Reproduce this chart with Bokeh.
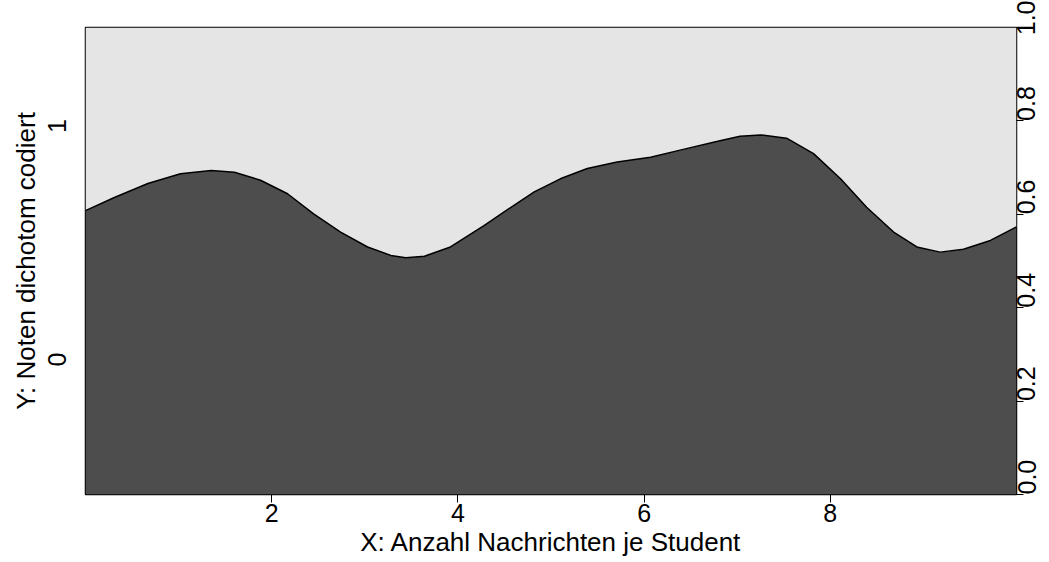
import math
from bokeh.plotting import figure
from bokeh.models import LinearAxis, FixedTicker, Range1d, PrintfTickFormatter
from bokeh.embed import file_html
from bokeh.resources import INLINE

# Conditional density P(Y=0 | x)
x_vals = [0.00, 0.31, 0.67, 1.02, 1.35, 1.60, 1.88, 2.17, 2.45, 2.74, 3.03, 3.28,
          3.44, 3.64, 3.92, 4.28, 4.57, 4.82, 5.10, 5.39, 5.71, 6.07, 6.42, 6.78,
          7.03, 7.25, 7.53, 7.82, 8.11, 8.39, 8.68, 8.93, 9.18, 9.43, 9.72, 10.00]
p_zero = [0.608, 0.636, 0.666, 0.687, 0.694, 0.690, 0.673, 0.644, 0.601, 0.562,
          0.530, 0.512, 0.507, 0.510, 0.530, 0.576, 0.615, 0.648, 0.676, 0.698,
          0.712, 0.722, 0.739, 0.756, 0.767, 0.770, 0.763, 0.730, 0.676, 0.615,
          0.562, 0.530, 0.519, 0.525, 0.544, 0.573]
levels = ["0", "1"]
x_ticks = [2, 4, 6, 8]
right_ticks = [0.0, 0.2, 0.4, 0.6, 0.8, 1.0]

FONT = "Liberation Sans"
DARK = "#4D4D4D"
LIGHT = "#E5E5E5"

p = figure(width=1049, height=562, output_backend="svg", toolbar_location=None,
           x_range=Range1d(0, 10), y_range=Range1d(0, 1),
           min_border_left=85, min_border_right=33, min_border_top=27, min_border_bottom=68)
p.background_fill_color = LIGHT
p.border_fill_color = "white"
p.outline_line_color = "black"
p.outline_line_width = 1.5
p.grid.visible = False

p.varea(x=x_vals, y1=[0] * len(x_vals), y2=p_zero, fill_color=DARK)
p.varea(x=x_vals, y1=p_zero, y2=[1] * len(x_vals), fill_color=LIGHT)
p.line(x_vals, p_zero, line_color="black", line_width=1.5, line_join="round")

# bottom axis
xa = p.xaxis[0]
xa.ticker = FixedTicker(ticks=x_ticks)
xa.axis_label = "X: Anzahl Nachrichten je Student"
xa.axis_line_color = None
xa.major_tick_out = 8
xa.major_tick_in = 0
xa.minor_tick_line_color = None
xa.major_label_text_font = FONT
xa.major_label_text_font_size = "25px"
xa.major_label_text_color = "black"
xa.major_label_standoff = 1
xa.axis_label_text_font = FONT
xa.axis_label_text_font_size = "26px"
xa.axis_label_text_font_style = "normal"
xa.axis_label_text_color = "black"
xa.axis_label_standoff = 2

# left axis: level labels at midpoints of the first slice
y0 = p_zero[0]
mids = [y0 / 2, (1 + y0) / 2]
ya = p.yaxis[0]
ya.ticker = FixedTicker(ticks=mids)
ya.major_label_overrides = {mids[0]: levels[0], mids[1]: levels[1]}
ya.axis_label = "Y: Noten dichotom codiert"
ya.axis_line_color = None
ya.major_tick_line_color = None
ya.minor_tick_line_color = None
ya.major_label_orientation = math.pi / 2
ya.major_label_text_font = FONT
ya.major_label_text_font_size = "25px"
ya.major_label_text_color = "black"
ya.major_label_standoff = 22
ya.axis_label_text_font = FONT
ya.axis_label_text_font_size = "26px"
ya.axis_label_text_font_style = "normal"
ya.axis_label_text_color = "black"
ya.axis_label_standoff = -4

# right axis
ra = LinearAxis(ticker=FixedTicker(ticks=right_ticks),
                formatter=PrintfTickFormatter(format="%.1f"))
ra.axis_line_color = None
ra.major_tick_out = 7
ra.major_tick_in = 0
ra.minor_tick_line_color = None
ra.major_label_orientation = math.pi / 2
ra.major_label_text_font = FONT
ra.major_label_text_font_size = "25px"
ra.major_label_text_color = "black"
ra.major_label_standoff = 3
p.add_layout(ra, "right")

open("out.html", "w").write(file_html(p, INLINE))
